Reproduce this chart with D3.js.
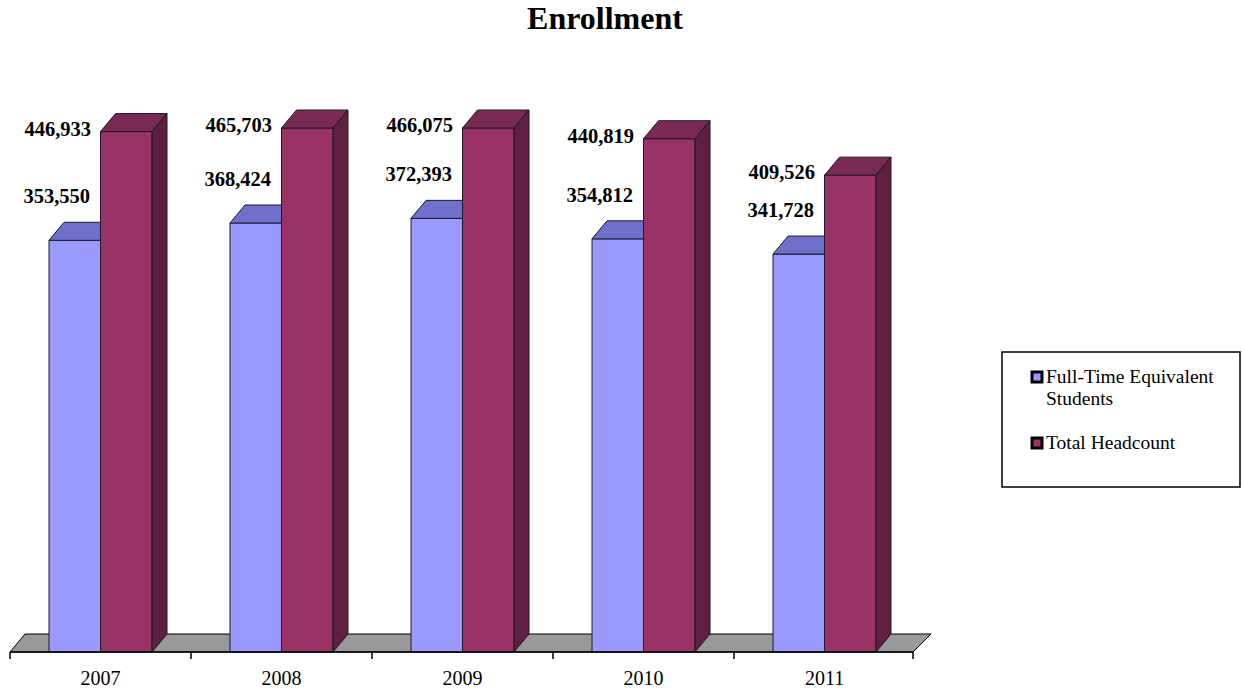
<!DOCTYPE html>
<html>
<head>
<meta charset="utf-8">
<script src="https://cdn.jsdelivr.net/npm/d3@7"></script>
<style>
  body { margin: 0; background: #fff; }
  text { font-family: "Liberation Serif", "Times New Roman", serif; }
</style>
</head>
<body>
<div id="chart-area"></div>
<script>
// Enrollment, 3D clustered columns (Excel style)

const years = ["2007", "2008", "2009", "2010", "2011"]
const series = ["Full-Time Equivalent Students", "Total Headcount"]
const fte = [353550, 368424, 372393, 354812, 341728]
const headcount = [446933, 465703, 466075, 440819, 409526]
const legendLines = [["Full-Time Equivalent", "Students"], ["Total Headcount"]]

const WIDTH = 1243
const HEIGHT = 691
const FLOOR_Y = 652
const DX = 15, DY = -18   // depth offset of the 3D look

const COLORS = {
    front: ["#9999ff", "#993366"],
    top: ["#7070cc", "#7a2a52"],
    side: ["#5a5aa8", "#5e1f40"]
}

const svg = d3.select("#chart-area")
    .append("svg")
    .attr("width", WIDTH)
    .attr("height", HEIGHT)

svg.append("text")
    .attr("x", 605)
    .attr("y", 29)
    .attr("text-anchor", "middle")
    .style("font-size", "32px")
    .style("font-weight", "bold")
    .text("Enrollment")

const x = d3.scaleBand()
    .domain(years)
    .range([10, 915])
    .padding(0)

const xInner = d3.scaleBand()
    .domain(series)
    .range([39, 142])

// axis max 450,000 -> taller bars are cut at the wall like the original
const y = d3.scaleLinear()
    .domain([0, 450000])
    .range([FLOOR_Y, 128])
    .clamp(true)

// floor
const x0 = x.range()[0], x1 = x.range()[1] - 2
svg.append("polygon")
    .attr("points", [[x0, FLOOR_Y], [x1, FLOOR_Y], [x1 + DX + 3, FLOOR_Y + DY], [x0 + DX, FLOOR_Y + DY]].join(" "))
    .attr("fill", "#999999")
    .attr("stroke", "#000")
    .attr("stroke-width", 1)

// bars
const rows = years.map((yr, i) => ({ year: yr, values: [fte[i], headcount[i]] }))

function drawBar(g, left, w, v, s) {
    const top = y(v)
    const right = left + w
    g.append("polygon")
        .attr("points", [[left, FLOOR_Y], [right, FLOOR_Y], [right, top], [left, top]].join(" "))
        .attr("fill", COLORS.front[s])
    g.append("polygon")
        .attr("points", [[left, top], [right, top], [right + DX, top + DY], [left + DX, top + DY]].join(" "))
        .attr("fill", COLORS.top[s])
    g.append("polygon")
        .attr("points", [[right, FLOOR_Y], [right + DX, FLOOR_Y + DY], [right + DX, top + DY], [right, top]].join(" "))
        .attr("fill", COLORS.side[s])
    g.selectAll("polygon")
        .attr("stroke", "#1a1a2a")
        .attr("stroke-width", 1)
        .attr("stroke-linejoin", "round")
}

const groups = svg.selectAll(".cat")
    .data(rows)
    .enter()
    .append("g")
    .attr("class", "cat")

groups.each(function (d) {
    const g = d3.select(this)
    series.forEach((s, si) => {
        const bg = g.append("g")
        drawBar(bg, x(d.year) + xInner(s), xInner.bandwidth(), d.values[si], si)
    })
})

// data labels
const fmt = d3.format(",")
groups.append("text")
    .attr("x", d => x(d.year) + xInner(series[0]) + 41)
    .attr("y", d => y(d.values[0]) - 37)
    .attr("text-anchor", "end")
    .style("font-size", "20.5px")
    .style("font-weight", "bold")
    .text(d => fmt(d.values[0]))

groups.append("text")
    .attr("x", d => x(d.year) + xInner(series[0]) + 42)
    .attr("y", d => y(d.values[1]) + 4)
    .attr("text-anchor", "end")
    .style("font-size", "20.5px")
    .style("font-weight", "bold")
    .text(d => fmt(d.values[1]))

// category axis
const xAxis = svg.append("g")
    .attr("transform", `translate(0, ${FLOOR_Y})`)
    .call(d3.axisBottom(x).tickSize(0).tickPadding(19))
xAxis.select(".domain").remove()
xAxis.selectAll("text")
    .style("font-size", "20px")
    .style("font-family", "'Liberation Serif', 'Times New Roman', serif")

svg.append("line")
    .attr("x1", x0).attr("x2", x1)
    .attr("y1", FLOOR_Y).attr("y2", FLOOR_Y)
    .attr("stroke", "#000")
    .attr("stroke-width", 1.5)

svg.selectAll(".tick-mark")
    .data(years.map(d => x(d)).concat([x1]))
    .enter()
    .append("line")
    .attr("class", "tick-mark")
    .attr("x1", d => d).attr("x2", d => d)
    .attr("y1", FLOOR_Y).attr("y2", FLOOR_Y + 7)
    .attr("stroke", "#000")
    .attr("stroke-width", 1.5)

// legend
const legend = svg.append("g")
svg.append("rect")
    .attr("x", 1002)
    .attr("y", 352)
    .attr("width", 238)
    .attr("height", 135)
    .attr("fill", "none")
    .attr("stroke", "#000")
    .attr("stroke-width", 1.5)

const legendItems = legend.selectAll("g")
    .data(series)
    .enter()
    .append("g")
    .attr("transform", (d, i) => `translate(1032, ${372 + i * 66})`)

legendItems.append("rect")
    .attr("width", 10)
    .attr("height", 10)
    .attr("fill", (d, i) => COLORS.front[i])
    .attr("stroke", "#000")
    .attr("stroke-width", 3)

legendItems.each(function (d, i) {
    const t = d3.select(this).append("text")
        .attr("x", 14)
        .attr("y", 11)
        .style("font-size", "19.5px")
    legendLines[i].forEach((line, li) => {
        t.append("tspan")
            .attr("x", 14)
            .attr("dy", li === 0 ? 0 : 22)
            .text(line)
    })
})
</script>
</body>
</html>
